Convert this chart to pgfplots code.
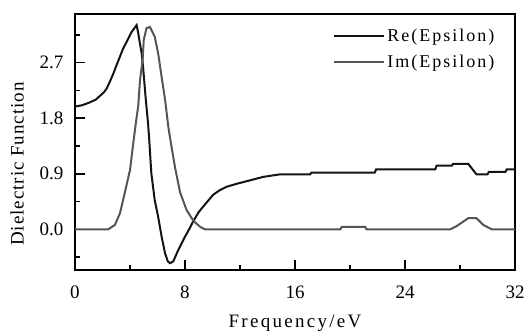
\documentclass[border=0pt]{standalone}
\usepackage{fontspec}
\setmainfont{Liberation Serif}
\newfontfamily\xlab[LetterSpace=12]{Liberation Serif}
\newfontfamily\ylab[LetterSpace=5]{Liberation Serif}
\newfontfamily\leg[LetterSpace=11]{Liberation Serif}
\usepackage{pgfplots}
\pgfplotsset{compat=1.18}
\definecolor{imgray}{RGB}{85,85,85}
\definecolor{reblack}{RGB}{20,20,20}
\begin{document}
\begin{tikzpicture}
\begin{axis}[
  at={(0pt,0pt)}, anchor=south west,
  scale only axis, width=440pt, height=256pt,
  xmin=0, xmax=32, ymin=-0.66, ymax=3.49,
  axis line style={line width=2pt},
  every tick/.style={black, line width=1.5pt},
  tick align=inside,
  major tick length=10pt, minor tick length=5pt,
  xtick={0,8,16,24,32}, xticklabels={0,8,16,24,32},
  minor xtick={4,12,20,28},
  ytick={0,0.9,1.8,2.7}, yticklabels={0.0,0.9,1.8,2.7},
  minor ytick={-0.45,0.45,1.35,2.25,3.15},
  xtick pos=bottom, ytick pos=left,
  tick label style={font=\fontsize{19}{22}\selectfont},
  xticklabel style={yshift=-12pt},
  yticklabel style={xshift=-8pt},
  xlabel={\xlab Frequency/eV}, ylabel={\ylab Dielectric Function},
  label style={font=\fontsize{19}{22}\selectfont},
  xlabel style={yshift=-10pt},
  ylabel style={yshift=9pt, xshift=-22pt},
  legend style={draw=none, fill=none, at={(rel axis cs:0.587,0.95)}, anchor=north west,
    font=\fontsize{18}{21}\selectfont\leg, row sep=8pt, inner sep=0pt},
  legend cell align=left,
  legend image code/.code={\draw[#1] (0pt,0pt) -- (50pt,0pt);},
]
\addplot[reblack, line width=2pt] coordinates {
(0,1.99) (0.5,2.01) (1.0,2.05) (1.5,2.10) (1.8,2.16) (2.1,2.22) (2.3,2.28) (2.55,2.40) (2.8,2.53) (3.0,2.65) (3.27,2.80) (3.5,2.93) (3.76,3.04) (4.12,3.20) (4.35,3.27) (4.48,3.31) (4.6,3.18) (4.7,3.04) (4.85,2.85) (4.95,2.63) (5.15,2.10) (5.3,1.75) (5.4,1.45) (5.55,0.91) (5.8,0.47) (6.05,0.20) (6.3,-0.12) (6.55,-0.39) (6.75,-0.52) (6.91,-0.55) (7.15,-0.52) (7.5,-0.34) (7.64,-0.28) (8.0,-0.12) (8.3,0.0) (8.6,0.13) (9.0,0.28) (9.33,0.37) (10.05,0.56) (10.5,0.63) (11.03,0.69) (11.8,0.74) (12.5,0.78) (13.7,0.85) (14.9,0.89) (17.1,0.89) (17.2,0.92) (21.8,0.92) (21.9,0.97) (26.2,0.97) (26.3,1.03) (27.4,1.03) (27.5,1.06) (28.6,1.06) (29.2,0.89) (30.0,0.89) (30.1,0.93) (31.3,0.93) (31.4,0.97) (32,0.97)
};
\addlegendentry{Re(Epsilon)}
\addplot[imgray, line width=2pt] coordinates {
(0,0) (2.42,0) (2.9,0.07) (3.27,0.26) (3.64,0.61) (4.0,0.96) (4.24,1.40) (4.44,1.75) (4.6,2.0) (4.73,2.42) (4.92,2.75) (5.0,3.07) (5.2,3.26) (5.45,3.28) (5.8,3.12) (6.05,2.85) (6.3,2.47) (6.55,2.10) (6.8,1.64) (7.02,1.34) (7.27,1.01) (7.64,0.60) (8.12,0.31) (8.6,0.14) (9.1,0.04) (9.45,0) (19.3,0) (19.4,0.04) (21.1,0.04) (21.2,0) (27.3,0) (27.75,0.05) (28.6,0.18) (29.2,0.18) (29.7,0.07) (30.3,0) (32,0)
};
\addlegendentry{Im(Epsilon)}
\end{axis}
\pgfresetboundingbox
\path[use as bounding box] (-75pt,-61pt) rectangle (453pt,270pt);
\end{tikzpicture}
\end{document}
